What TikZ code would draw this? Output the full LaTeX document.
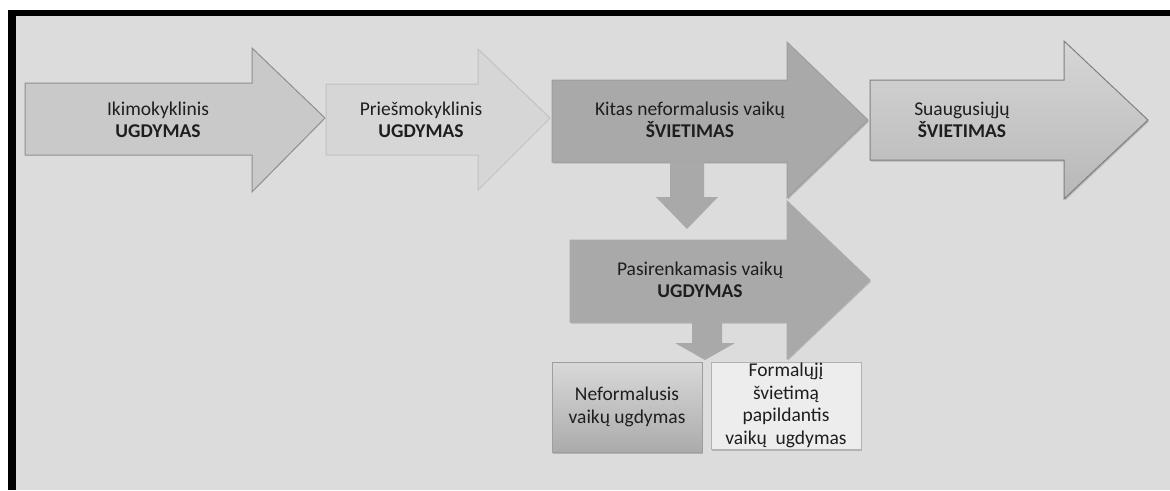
\documentclass[tikz,border=0pt]{standalone}
\usepackage{fontspec}
\setmainfont{Carlito}
\usetikzlibrary{shadows}
\definecolor{bggrey}{HTML}{DCDCDC}
\definecolor{txtgrey}{HTML}{1E1E1E}
\definecolor{midgrey}{HTML}{A9A9A9}
\tikzset{
  bigarrow/.style={line width=1pt, line join=miter},
  shadowed/.style={drop shadow={shadow xshift=1pt, shadow yshift=-1.5pt, fill=black, opacity=0.18}},
  arrowtext/.style={align=center, inner sep=0pt, text=txtgrey,
    font=\fontsize{19.5}{22}\selectfont},
  boxnode/.style={rectangle, line width=1pt, minimum width=150pt, inner sep=0pt,
    align=center, text=txtgrey, font=\fontsize{19.5}{22.7}\selectfont}
}

\begin{document}
\begin{tikzpicture}[x=1pt, y=-1pt]
    \useasboundingbox (0,0) rectangle (1170,490);
    \fill[white] (0,0) rectangle (1170,490);
    % frame and background
    \fill[black] (8,10) rectangle (1170,490);
    \fill[bggrey] (16,16) rectangle (1170,490);

    % top row of arrows
    \draw[bigarrow, fill=black!21, draw=black!44]
      (25,83) -- (252,83) -- (252,48) -- (325,118) -- (252,192) -- (252,155) -- (25,155) -- cycle;
    \draw[bigarrow, fill=black!16, draw=black!24]
      (326,84) -- (478,84) -- (478,49) -- (550,118) -- (478,190) -- (478,155) -- (326,155) -- cycle;
    \draw[bigarrow, shadowed, fill=midgrey, draw=black!38]
      (552,80) -- (787,80) -- (787,42) -- (868,120) -- (787,198) -- (787,162) -- (552,162) -- cycle;
    \draw[bigarrow, shadowed, top color=black!16, bottom color=black!28, draw=black!50]
      (870,80) -- (1064,80) -- (1064,41) -- (1148,120) -- (1064,199) -- (1064,160) -- (870,160) -- cycle;

    % down arrow and second level
    \fill[midgrey]
      (670,162) -- (704,162) -- (704,197) -- (718,197) -- (687,229) -- (656,197) -- (670,197) -- cycle;
    \draw[bigarrow, shadowed, fill=midgrey, draw=midgrey]
      (570,240) -- (787,240) -- (787,201) -- (870,280) -- (787,359) -- (787,322) -- (570,322) -- cycle;
    \fill[midgrey]
      (692,322) -- (722,322) -- (722,343) -- (735,343) -- (705,360) -- (675,343) -- (692,343) -- cycle;

    % texts
    \node[arrowtext] (ikimo) at (158,119.5) {Ikimokyklinis\\\textbf{UGDYMAS}};
    \node[arrowtext] (priesmo) at (421,119.5) {Priešmokyklinis\\\textbf{UGDYMAS}};
    \node[arrowtext] (kitas) at (690,119.5) {Kitas neformalusis vaikų\\\textbf{ŠVIETIMAS}};
    \node[arrowtext] (suaug) at (962,119.5) {Suaugusiųjų\\\textbf{ŠVIETIMAS}};
    \node[arrowtext] (pasirenk) at (700,279.5) {Pasirenkamasis vaikų\\\textbf{UGDYMAS}};

    % bottom boxes
    \node[boxnode, shadowed, minimum height=90pt, top color=black!15, bottom color=black!33, draw=black!38]
      (neform) at (627,407) {Neformalusis\\vaikų ugdymas};
    \node[boxnode, shadowed, minimum height=87pt, fill=black!7, draw=black!30]
      (formal) at (786,405.5) {Formalųjį\\švietimą\\papildantis\\vaikų\ \ ugdymas};
\end{tikzpicture}
\end{document}
